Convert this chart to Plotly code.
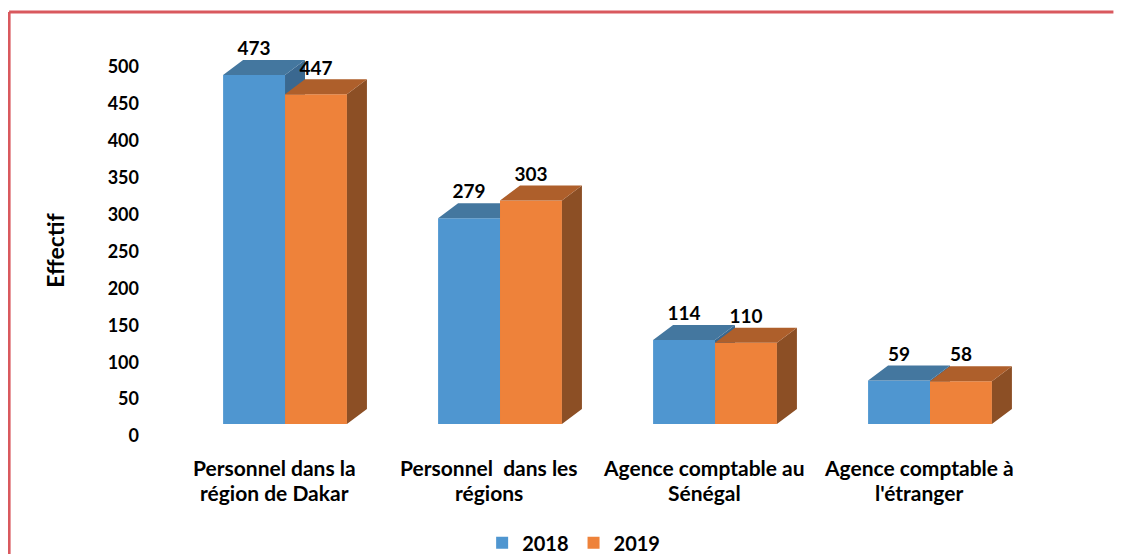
import plotly.graph_objects as go

categories = ["Personnel dans la\nrégion de Dakar", "Personnel  dans les\nrégions",
              "Agence comptable au\nSénégal", "Agence comptable à\nl'étranger"]
years = ["2018", "2019"]
values_2018 = [473, 279, 114, 59]
values_2019 = [447, 303, 110, 58]
y_ticks = [0, 50, 100, 150, 200, 250, 300, 350, 400, 450, 500]

FONT = "Lato"
BAR_W = 0.288
DX = 0.093
DY = 20.3

front = ["#4F96D0", "#EE823A"]
topc = ["#44779F", "#AE5F2B"]
sidec = ["#3A6890", "#8C4F25"]

fig = go.Figure()
series = [values_2018, values_2019]
for s, vals in enumerate(series):
    xc = [i + (s - 0.5) * BAR_W for i in range(len(vals))]
    z = s * 2
    fig.add_trace(go.Bar(x=xc, y=vals, width=BAR_W, name=years[s],
                         marker=dict(color=front[s], line=dict(width=0)),
                         zorder=z, hoverinfo="y"))
    tx, ty, sx, sy = [], [], [], []
    for x0, v in zip(xc, vals):
        l, r = x0 - BAR_W / 2, x0 + BAR_W / 2
        tx += [l, r, r + DX, l + DX, l, None]
        ty += [v, v, v + DY, v + DY, v, None]
        sx += [r, r + DX, r + DX, r, r, None]
        sy += [0, DY, v + DY, v, 0, None]
    fig.add_trace(go.Scatter(x=sx, y=sy, mode="lines", fill="toself", fillcolor=sidec[s],
                             line=dict(width=0, color=sidec[s]), showlegend=False,
                             hoverinfo="skip", zorder=z + 1))
    fig.add_trace(go.Scatter(x=tx, y=ty, mode="lines", fill="toself", fillcolor=topc[s],
                             line=dict(width=0, color=topc[s]), showlegend=False,
                             hoverinfo="skip", zorder=z + 1))
    fig.add_trace(go.Scatter(x=xc, y=[v + DY for v in vals], mode="text",
                             text=[str(v) for v in vals], textposition="top center",
                             textfont=dict(family=FONT, size=19, color="black", weight="bold"),
                             showlegend=False, hoverinfo="skip", cliponaxis=False, zorder=5))

for i, cat in enumerate(categories):
    for j, line in enumerate(cat.split("\n")):
        fig.add_annotation(x=i - 0.05, y=0, xref="x", yref="y", text=line, showarrow=False,
                           yanchor="middle", yshift=-43 - 25 * j,
                           font=dict(family=FONT, size=21, color="black", weight="bold"))

fig.add_annotation(text="Effectif", xref="paper", yref="paper", x=-0.1, y=0.445,
                   textangle=-90, showarrow=False, xanchor="center", yanchor="middle",
                   font=dict(family=FONT, size=23, color="black", weight="bold"))

# frame (top and left edges visible in the reference)
fig.add_shape(type="line", xref="paper", yref="paper", x0=-0.148, x1=1.012, y0=1.054, y1=1.054,
              line=dict(color="#D9595E", width=3), layer="below")
fig.add_shape(type="line", xref="paper", yref="paper", x0=-0.148, x1=-0.148, y0=-0.5, y1=1.054,
              line=dict(color="#D9595E", width=3), layer="below")

fig.update_layout(
    width=1117, height=546,
    margin=dict(l=142, r=23, t=25, b=130, autoexpand=False),
    paper_bgcolor="white", plot_bgcolor="white",
    barmode="overlay",
    showlegend=True,
    legend=dict(orientation="h", x=0.445, y=-0.304, xanchor="center", yanchor="middle",
                font=dict(family=FONT, size=20, color="black", weight="bold"),
                itemwidth=30, traceorder="normal"),
    xaxis=dict(range=[-0.628, 3.8], showticklabels=False, showgrid=False, zeroline=False,
               showline=False, ticks=""),
    yaxis=dict(range=[0, 530], tickvals=y_ticks, showgrid=False, zeroline=False, showline=False,
               ticks="", ticklabelshift=12, ticklabelstandoff=10,
               tickfont=dict(family=FONT, size=18, color="black", weight="bold")),
)

fig.write_html("out.html")
